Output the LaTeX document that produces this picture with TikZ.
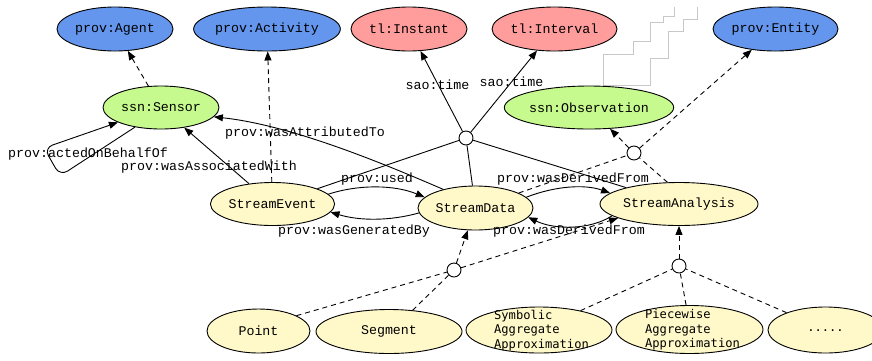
\documentclass[tikz,border=0pt]{standalone}
\usepackage{fontspec}
\setmonofont{Liberation Mono}
\newfontfamily\smono{DejaVu Sans Mono}
\usetikzlibrary{shapes.geometric,arrows.meta}
\definecolor{cblue}{RGB}{100,150,237}
\definecolor{cpink}{RGB}{255,156,156}
\definecolor{cgreen}{RGB}{198,250,142}
\definecolor{cyellow}{RGB}{255,249,201}
\definecolor{cstair}{RGB}{200,200,200}
\begin{document}
\begin{tikzpicture}[x=1pt,y=-1pt,
  every node/.style={font=\ttfamily\fontsize{13.3}{16}\selectfont},
  ell/.style={ellipse,draw,line width=0.9pt,inner sep=0pt},
  blueell/.style={ell,fill=cblue,minimum height=44pt},
  pinkell/.style={ell,fill=cpink,minimum height=44pt},
  greenell/.style={ell,fill=cgreen,minimum height=43pt},
  yellell/.style={ell,fill=cyellow,minimum height=44pt},
  hubnode/.style={circle,draw,fill=white,line width=0.9pt,minimum size=14pt,inner sep=0pt},
  multitxt/.style={font=\smono\fontsize{12.1}{14.4}\selectfont,align=left,inner sep=0pt},
  edgelbl/.style={inner sep=0pt},
  plainline/.style={line width=0.9pt},
  arrowline/.style={line width=0.9pt,-{Triangle[length=9pt,width=7pt]}},
  dashline/.style={line width=0.9pt,dash pattern=on 5pt off 4pt},
  dasharrow/.style={dashline,-{Triangle[length=9pt,width=7pt]}},
  stair/.style={draw=cstair,line width=0.8pt}
]
\useasboundingbox (0,0) rectangle (872,360);
\clip (0,0) rectangle (872,360);

% staircase artefact
\draw[stair] (603,85) -- (603,54) -- (633,54) -- (633,41) -- (650,41) -- (650,22) -- (663,22) -- (663,16) -- (674,16) -- (674,7);
\draw[stair] (603,85) -- (650,85) -- (650,58) -- (668,58) -- (668,31) -- (683,31) -- (683,19) -- (697,19) -- (697,7);

% top row
\node[blueell,minimum width=116pt] (agent) at (115,29) {prov:Agent};
\node[blueell,minimum width=146pt] (activity) at (267,29) {prov:Activity};
\node[pinkell,minimum width=116pt] (instant) at (409,29) {tl:Instant};
\node[pinkell,minimum width=125pt] (interval) at (554.5,29) {tl:Interval};
\node[blueell,minimum width=125pt] (entity) at (775.5,29) {prov:Entity};

% second row
\node[greenell,minimum width=116pt] (sensor) at (161,107.5) {ssn:Sensor};
\node[greenell,minimum width=168pt] (observation) at (589,107.5) {ssn:Observation};

% hubs
\node[hubnode] (hubtop) at (466,138) {};
\node[hubnode] (hubobs) at (634,153) {};
\node[hubnode] (hubleft) at (454,270) {};
\node[hubnode] (hubright) at (679,266) {};

% middle row
\node[yellell,minimum width=123pt,minimum height=43pt] (event) at (272.5,204) {StreamEvent};
\node[yellell,minimum width=115pt] (data) at (475.5,208) {StreamData};
\node[yellell,minimum width=156pt,minimum height=43pt] (analysis) at (679,204) {StreamAnalysis};

% bottom row
\node[yellell,minimum width=103pt] (point) at (258.5,331) {Point};
\node[yellell,minimum width=146pt] (segment) at (389,331.5) {Segment};
\node[yellell,minimum width=146pt,minimum height=46pt] (sax) at (539,330) {};
\node[multitxt] (saxtext) at (541.5,330.5) {Symbolic\\Aggregate\\Approximation};
\node[yellell,minimum width=147pt,minimum height=48pt] (paa) at (689.5,329.5) {};
\node[multitxt] (paatext) at (692.5,330) {Piecewise\\Aggregate\\Approximation};
\node[yellell,minimum width=115pt,minimum height=46pt] (dots) at (825.5,330) {};
\node[multitxt] (dotstext) at (825.5,331) {.....};

% edges
\draw[dasharrow] (sensor) -- (agent);
\draw[dasharrow] (event) -- (activity);
\draw[arrowline] (event) -- (sensor);
\draw[arrowline] (data.150) .. controls (380,162) and (290,125) .. (sensor.-10);
\draw[arrowline,rounded corners=9pt] (sensor.-143) -- (60,176) -- (44,148) -- (sensor.-161);
\draw[arrowline] (event.10) .. controls (360,184) and (395,185) .. (data.168);
\draw[arrowline] (data.-175) .. controls (390,221) and (360,221) .. (event.-8);
\draw[arrowline] (data.12) .. controls (555,186) and (585,184) .. (analysis.171);
\draw[arrowline] (analysis.-170) .. controls (590,230) and (555,230) .. (data.-10);

\draw[plainline] (event) -- (hubtop);
\draw[plainline] (data) -- (hubtop);
\draw[plainline] (analysis) -- (hubtop);
\draw[arrowline] (hubtop) -- (instant);
\draw[arrowline] (hubtop) -- (interval);

\draw[dashline] (data) -- (hubobs);
\draw[dashline] (analysis.118) -- (hubobs);
\draw[dasharrow] (hubobs) -- (observation);
\draw[dasharrow] (hubobs) -- (entity);

\draw[dasharrow] (hubleft) -- (data);
\draw[dashline] (point.22) -- (hubleft);
\draw[dashline] (segment.42) -- (hubleft);
\draw[dasharrow] (hubleft) -- (analysis.-167);

\draw[dasharrow] (hubright) -- (analysis);
\draw[dashline] (sax.25) -- (hubright);
\draw[dashline] (paa.98) -- (hubright);
\draw[dashline] (dots.156) -- (hubright);

% edge labels
\node[edgelbl] (lblacted) at (88,154) {prov:actedOnBehalfOf};
\node[edgelbl] (lblassoc) at (209,167) {prov:wasAssociatedWith};
\node[edgelbl] (lblattr) at (305,133) {prov:wasAttributedTo};
\node[edgelbl] (lblused) at (377,179) {prov:used};
\node[edgelbl] (lblgen) at (354,231) {prov:wasGeneratedBy};
\node[edgelbl] (lbldertop) at (573,179) {prov:wasDerivedFrom};
\node[edgelbl] (lblderbot) at (569,231) {prov:wasDerivedFrom};
\node[edgelbl] (lbltime1) at (437.5,85) {sao:time};
\node[edgelbl] (lbltime2) at (511.5,82) {sao:time};
\end{tikzpicture}
\end{document}
